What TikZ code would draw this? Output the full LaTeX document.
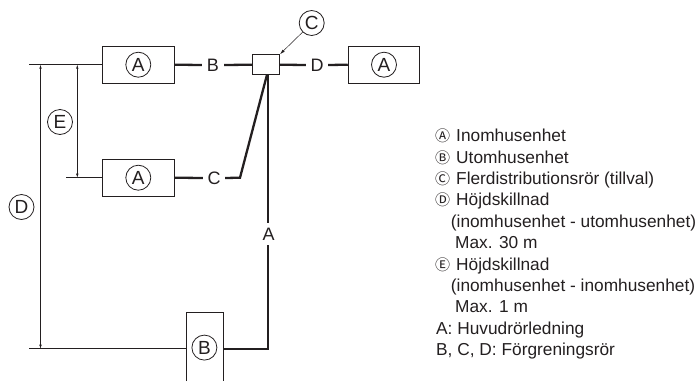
\documentclass[tikz,border=0pt]{standalone}
\usepackage{fontspec}
\setmainfont{Liberation Sans}
\newfontfamily\symf{Noto Sans CJK SC}
\usetikzlibrary{arrows.meta}
\definecolor{ink}{HTML}{231F20}
\tikzset{
  unit/.style={draw=ink,line width=1pt,fill=white,inner sep=0pt},
  badge/.style={circle,draw=ink,line width=0.8pt,minimum size=25pt,inner sep=0pt,font=\fontsize{19}{19}\selectfont,text=ink},
  pipe/.style={draw=ink,line width=2.3pt,line join=miter},
  thin line/.style={draw=ink,line width=1pt},
  dim/.style={draw=ink,line width=0.5pt,{Latex[length=4pt,width=2.5pt]}-{Latex[length=4pt,width=2.5pt]}},
  pipelabel/.style={font=\fontsize{18}{18}\selectfont,text=ink,inner sep=0pt,minimum width=22pt,minimum height=22pt},
  legend/.style={anchor=base west,font=\fontsize{17.3}{17.3}\selectfont,text=ink,inner sep=0pt},
  legsym/.style={anchor=base,font=\symf\fontsize{15}{15}\selectfont,text=ink,inner sep=0pt}
}
\begin{document}
\begin{tikzpicture}[x=1pt,y=-1pt]
\useasboundingbox (0,0) rectangle (699,381);
% units
\node[unit,minimum width=71.5pt,minimum height=37pt] (a1) at (138.3,64.7) {};
\node[unit,minimum width=71.5pt,minimum height=37pt] (a2) at (138.3,177.7) {};
\node[unit,minimum width=71.5pt,minimum height=37pt] (a3) at (384,64.7) {};
\node[unit,minimum width=27pt,minimum height=20pt] (c) at (266,64.7) {};
\node[badge] (ba1) at (a1) {A};
\node[badge] (ba2) at (a2) {A};
\node[badge] (ba3) at (a3) {A};
% outdoor unit, open at the bottom
\coordinate (bsw) at (186,381);
\coordinate (bnw) at (186,312);
\coordinate (bne) at (223,312);
\coordinate (bse) at (223,381);
\draw[thin line] (bsw) -- (bnw) -- (bne) -- (bse);
\coordinate (bw) at (186,348.7);
\coordinate (be) at (223,348.7);
\node[badge] (bb) at (204.4,347.6) {B};
% extension lines
\coordinate (ext1) at (29,64.7);
\coordinate (ext2) at (66,177.7);
\coordinate (ext3) at (29,348.7);
\draw[thin line] (ext1) -- (a1.west);
\draw[thin line] (ext2) -- (a2.west);
\draw[thin line] (ext3) -- (bw);
% dimensions
\coordinate (dt) at (40.5,64.7);
\coordinate (db) at (40.5,348.7);
\coordinate (et) at (77.3,64.7);
\coordinate (eb) at (77.3,177.7);
\draw[dim] (dt) -- (db);
\draw[dim] (et) -- (eb);
\node[badge] (be2) at (60,122) {E};
\node[badge] (bd) at (21.5,207) {D};
\node[badge] (bc) at (311.7,23) {C};
\draw[draw=ink,line width=0.5pt,-{Latex[length=5pt,width=3pt]}] (bc.225) -- (c.north east);
% pipes with labels
\node[pipelabel] (lb) at (213,65) {B};
\node[pipelabel] (lc) at (214,178) {C};
\node[pipelabel] (ld) at (317,65) {D};
\node[pipelabel] (la) at (268.5,234) {A};
\draw[pipe] (a1.east) -- (lb.west);
\draw[pipe] (lb.east) -- (c.west);
\draw[pipe] (c.east) -- (ld.west);
\draw[pipe] (ld.east) -- (a3.west);
\coordinate (cbend) at (240,177.7);
\coordinate (ctop) at (267,74.7);
\draw[pipe] (a2.east) -- (lc.west);
\draw[pipe] (lc.east) -- (cbend) -- (ctop);
\coordinate (cbot) at (268,74.7);
\coordinate (acorner) at (268,348.7);
\draw[pipe] (cbot) -- (cbot |- la.north);
\draw[pipe] (cbot |- la.south) -- (acorner) -- (be);
% legend
\node[legsym] (sa) at (442.7,141.7) {Ⓐ};
\node[legsym] (sb) at (442.7,163.1) {Ⓑ};
\node[legsym] (sc) at (442.7,184.5) {Ⓒ};
\node[legsym] (sd) at (442.7,205.9) {Ⓓ};
\node[legsym] (se) at (442.7,270) {Ⓔ};
\node[legend] (l1) at (456,141.7) {Inomhusenhet};
\node[legend] (l2) at (456,163.1) {Utomhusenhet};
\node[legend] (l3) at (456,184.5) {Flerdistributionsrör (tillval)};
\node[legend] (l4) at (456,205.9) {Höjdskillnad};
\node[legend] (l5) at (450.7,227.3) {(inomhusenhet - utomhusenhet)};
\node[legend] (l6) at (455,248.7) {Max. 30 m};
\node[legend] (l7) at (456,270.1) {Höjdskillnad};
\node[legend] (l8) at (450.7,291.5) {(inomhusenhet - inomhusenhet)};
\node[legend] (l9) at (455,312.9) {Max. 1 m};
\node[legend] (l10) at (436,334.3) {A: Huvudrörledning};
\node[legend] (l11) at (436,355.7) {B, C, D: Förgreningsrör};
\end{tikzpicture}
\end{document}
